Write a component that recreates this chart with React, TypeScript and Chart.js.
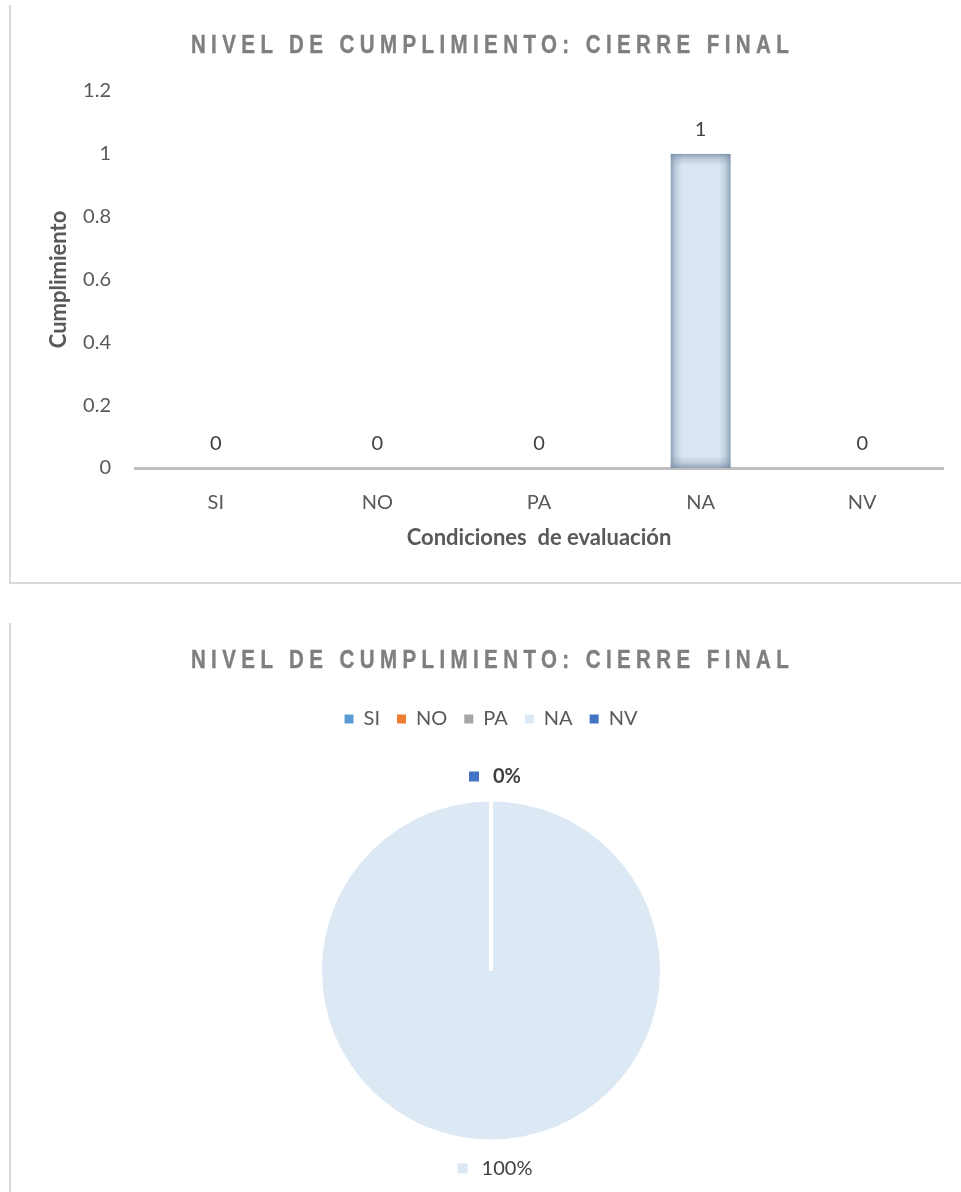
import React, { useEffect, useRef } from "react";
import { Chart, registerables } from "chart.js";

Chart.register(...registerables);

// ---- data ----
const categories = ["SI", "NO", "PA", "NA", "NV"];
const cumplimiento = [0, 0, 0, 1, 0];
const yTickValues = [0, 0.2, 0.4, 0.6, 0.8, 1, 1.2];
const sliceColors = ["#5b9bd5", "#ed7d31", "#a5a5a5", "#dde8f5", "#4472c4"];
const chartTitle = "NIVEL DE CUMPLIMIENTO: CIERRE FINAL";
const yAxisTitle = "Cumplimiento";
const xAxisTitle = "Condiciones  de evaluación";
// weight of the percentage label for each slice
const pctLabelWeights = ["bold", "bold", "bold", "normal", "bold"];

const FONT = "Lato, 'Open Sans', sans-serif";
const TEXT = "#595959";
const SIZE = 20;
const AXIS_TITLE_SIZE = 22;

// Inner shading on the bar edges
const barShade = {
  id: "barShade",
  afterDatasetDraw(chart: any, args: any) {
    const ctx = chart.ctx;
    const meta = chart.getDatasetMeta(args.index);
    meta.data.forEach((el: any) => {
      const { x, y, base, width } = el.getProps(["x", "y", "base", "width"], true);
      const left = x - width / 2;
      const top = Math.min(y, base);
      const h = Math.abs(base - y);
      if (h < 1) return;
      const d = Math.min(12, width / 3, h / 3);
      const edge = "rgba(110,134,160,0.7)";
      const mid = "rgba(110,134,160,0.25)";
      const clear = "rgba(110,134,160,0)";
      ctx.save();
      ctx.beginPath();
      ctx.rect(left, top, width, h);
      ctx.clip();
      const sides: [number, number, number, number, number, number, number, number][] = [
        [left, 0, left + d, 0, left, top, d, h],
        [left + width, 0, left + width - d, 0, left + width - d, top, d, h],
        [0, top, 0, top + d, left, top, width, d],
        [0, top + h, 0, top + h - d, left, top + h - d, width, d],
      ];
      sides.forEach(([x0, y0, x1, y1, rx, ry, rw, rh]) => {
        const g = ctx.createLinearGradient(x0, y0, x1, y1);
        g.addColorStop(0, edge);
        g.addColorStop(0.45, mid);
        g.addColorStop(1, clear);
        ctx.fillStyle = g;
        ctx.fillRect(rx, ry, rw, rh);
      });
      ctx.restore();
    });
  },
};

// Value labels above the bars
const barValues = {
  id: "barValues",
  afterDatasetsDraw(chart: any) {
    const ctx = chart.ctx;
    const ds = chart.data.datasets[0];
    const meta = chart.getDatasetMeta(0);
    ctx.save();
    ctx.font = `${SIZE}px ${FONT}`;
    ctx.fillStyle = "#404040";
    ctx.textAlign = "center";
    ctx.textBaseline = "middle";
    meta.data.forEach((el: any, i: number) => {
      ctx.fillText(String(ds.data[i]), el.x, el.y - 24);
    });
    ctx.restore();
  },
};

// White radial separators at slice boundaries
const sliceEdges = {
  id: "sliceEdges",
  afterDatasetsDraw(chart: any) {
    const ctx = chart.ctx;
    const meta = chart.getDatasetMeta(0);
    ctx.save();
    ctx.strokeStyle = "#ffffff";
    ctx.lineWidth = 3;
    meta.data.forEach((arc: any) => {
      const { x, y, startAngle, endAngle, outerRadius } = arc.getProps(
        ["x", "y", "startAngle", "endAngle", "outerRadius"],
        true
      );
      [startAngle, endAngle].forEach((a: number) => {
        ctx.beginPath();
        ctx.moveTo(x, y);
        ctx.lineTo(x + Math.cos(a) * outerRadius, y + Math.sin(a) * outerRadius);
        ctx.stroke();
      });
    });
    ctx.restore();
  },
};

// Percentage labels outside the pie, with a colour key
const pieLabels = {
  id: "pieLabels",
  afterDatasetsDraw(chart: any) {
    const ctx = chart.ctx;
    const ds = chart.data.datasets[0];
    const values: number[] = ds.data;
    const total = values.reduce((s, v) => s + v, 0) || 1;
    const meta = chart.getDatasetMeta(0);
    const byPos = new Map<string, any>();
    meta.data.forEach((arc: any, i: number) => {
      const { x, y, startAngle, endAngle, outerRadius } = arc.getProps(
        ["x", "y", "startAngle", "endAngle", "outerRadius"],
        true
      );
      const mid = (startAngle + endAngle) / 2;
      const r = outerRadius + 27;
      const px = x + Math.cos(mid) * r;
      const py = y + Math.sin(mid) * r + 2;
      const key = `${Math.round(px)}:${Math.round(py)}`;
      byPos.set(key, {
        px,
        py,
        text: `${Math.round((values[i] / total) * 100)}%`,
        color: sliceColors[i],
        weight: pctLabelWeights[i],
      });
    });
    ctx.save();
    ctx.textBaseline = "middle";
    ctx.textAlign = "left";
    byPos.forEach((l) => {
      ctx.font = `${l.weight} ${SIZE}px ${FONT}`;
      const tw = ctx.measureText(l.text).width;
      const box = 10;
      const gap = 14;
      const w = box + gap + tw;
      const left = l.px - w / 2 + 4;
      ctx.fillStyle = l.color;
      ctx.fillRect(left, l.py - box / 2, box, box);
      ctx.fillStyle = "#404040";
      ctx.fillText(l.text, left + box + gap, l.py);
    });
    ctx.restore();
  },
};

const titleStyle = (top: number): React.CSSProperties => ({
  position: "absolute",
  left: 0,
  top,
  width: 985,
  textAlign: "center",
  fontFamily: "'Liberation Sans', Arial, sans-serif",
  fontWeight: "bold",
  fontSize: 25,
  lineHeight: "25px",
  letterSpacing: "6.6px",
  color: "#7f7f7f",
  whiteSpace: "nowrap",
  transform: "scaleX(0.82)",
  transformOrigin: "50% 50%",
  WebkitTextStroke: "0.4px #7f7f7f",
});

const line = (left: number, top: number, width: number, height: number): React.CSSProperties => ({
  position: "absolute",
  left,
  top,
  width,
  height,
  background: "#d9d9d9",
});

export default function App() {
  const barRef = useRef<HTMLCanvasElement>(null);
  const pieRef = useRef<HTMLCanvasElement>(null);

  useEffect(() => {
    Chart.defaults.font.family = FONT;
    const bar = new Chart(barRef.current!, {
      type: "bar",
      data: {
        labels: categories,
        datasets: [
          {
            data: cumplimiento,
            backgroundColor: "#dce6f2",
            borderColor: "#b7c3d0",
            borderWidth: 1,
            barPercentage: 0.372,
            categoryPercentage: 1,
          },
        ],
      },
      options: {
        animation: false,
        responsive: false,
        layout: { padding: { left: 42, top: 91, right: 18, bottom: 28.8 } },
        plugins: { legend: { display: false }, tooltip: { enabled: false } },
        scales: {
          x: {
            z: 1,
            grid: { display: false, drawTicks: false },
            border: { display: true, color: "#bfbfbf", width: 3 },
            ticks: { color: TEXT, font: { family: FONT, size: SIZE }, padding: 23 },
            title: {
              display: true,
              text: xAxisTitle,
              color: TEXT,
              font: { family: FONT, size: AXIS_TITLE_SIZE, weight: "bold" },
              padding: { top: -13.2, bottom: 0 },
            },
          },
          y: {
            min: yTickValues[0],
            max: yTickValues[yTickValues.length - 1],
            afterBuildTicks: (scale: any) => {
              scale.ticks = yTickValues.map((v) => ({ value: v }));
            },
            afterFit: (scale: any) => {
              scale.width = 93;
            },
            grid: { display: false, drawTicks: false },
            border: { display: false },
            ticks: {
              color: TEXT,
              font: { family: FONT, size: SIZE },
              padding: 24,
              callback: (v: any) => String(v),
            },
            title: {
              display: true,
              text: yAxisTitle,
              color: TEXT,
              font: { family: FONT, size: AXIS_TITLE_SIZE, weight: "bold" },
            },
          },
        },
      },
      plugins: [barShade, barValues],
    });

    const pie = new Chart(pieRef.current!, {
      type: "pie",
      data: {
        labels: categories,
        datasets: [{ data: cumplimiento, backgroundColor: sliceColors, borderWidth: 0 }],
      },
      options: {
        animation: false,
        responsive: false,
        layout: { padding: { left: 322, right: 301, top: 102, bottom: 8 } },
        plugins: {
          tooltip: { enabled: false },
          legend: {
            position: "top",
            labels: {
              boxWidth: 9,
              boxHeight: 9,
              padding: 17,
              color: TEXT,
              font: { family: FONT, size: SIZE },
            },
          },
        },
      },
      plugins: [sliceEdges, pieLabels],
    });

    return () => {
      bar.destroy();
      pie.destroy();
    };
  }, []);

  return (
    <div
      style={{
        position: "absolute",
        left: 0,
        top: 0,
        width: 961,
        height: 1192,
        overflow: "hidden",
        background: "#ffffff",
      }}
    >
      <canvas
        ref={barRef}
        width={961}
        height={580}
        style={{ position: "absolute", left: 0, top: 0, width: 961, height: 580 }}
      />
      <canvas
        ref={pieRef}
        width={961}
        height={620}
        style={{ position: "absolute", left: 0, top: 590, width: 961, height: 620 }}
      />
      <div style={titleStyle(32)}>{chartTitle}</div>
      <div style={titleStyle(647)}>{chartTitle}</div>
      <div style={line(9, 5, 2, 579)} />
      <div style={line(9, 582, 952, 2)} />
      <div style={line(9, 623, 2, 569)} />
    </div>
  );
}
